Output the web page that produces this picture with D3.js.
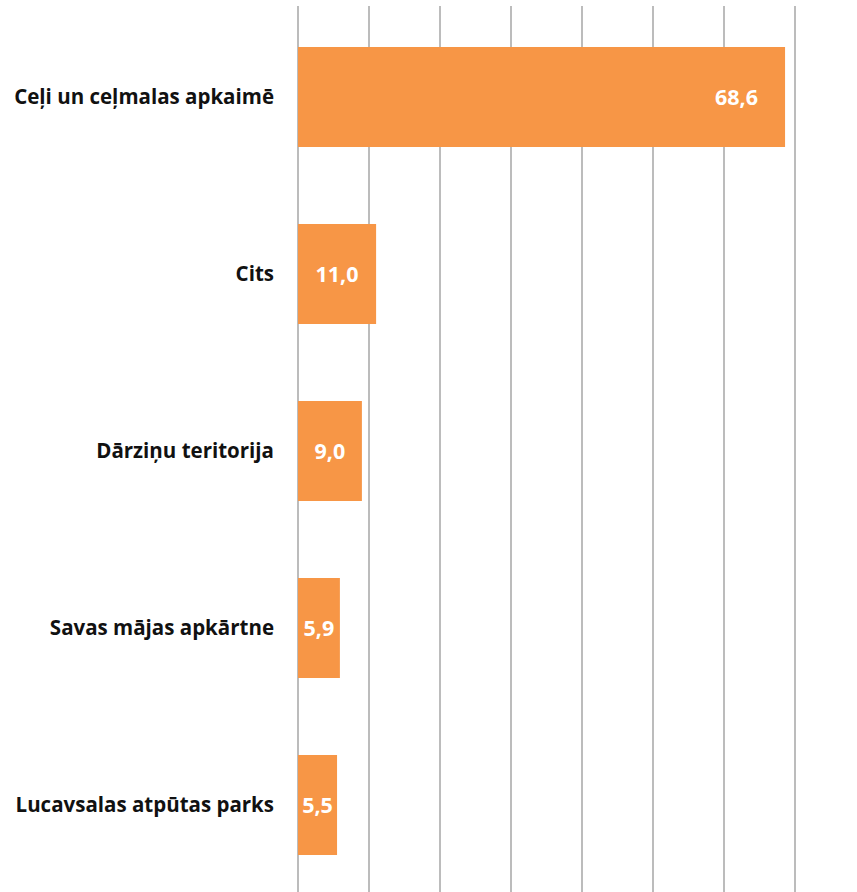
<!DOCTYPE html>
<html><head><meta charset="utf-8">
<script src="https://cdn.jsdelivr.net/npm/d3@7"></script>
<style>body{margin:0;background:#fff}svg{display:block}</style>
</head><body>
<svg id="c" width="857" height="892"></svg>
<script>
const categories = ["Ceļi un ceļmalas apkaimē","Cits","Dārziņu teritorija","Savas mājas apkārtne","Lucavsalas atpūtas parks"];
const values = [68.6, 11.0, 9.0, 5.9, 5.5];
const ticks = [0,10,20,30,40,50,60,70];

const svg = d3.select("#c");
const x = d3.scaleLinear().domain([0,70]).range([298,795]);
const y = d3.scaleBand().domain(categories).range([8.5,893.5]).paddingInner(0.435).paddingOuter(0.2175);

svg.append("g").selectAll("line").data(ticks).enter().append("line")
  .attr("x1",d=>x(d)).attr("x2",d=>x(d)).attr("y1",6).attr("y2",892)
  .attr("stroke","#a6a6a6").attr("stroke-width",1.5);

svg.append("g").selectAll("rect").data(values).enter().append("rect")
  .attr("x",x(0)).attr("y",(d,i)=>y(categories[i]))
  .attr("width",d=>x(d)-x(0)).attr("height",y.bandwidth())
  .attr("fill","#f79646");

svg.append("g").selectAll("text").data(categories).enter().append("text")
  .attr("x",274).attr("y",d=>y(d)+y.bandwidth()/2).attr("dy","0.36em")
  .attr("text-anchor","end").attr("font-family","'Open Sans', sans-serif")
  .attr("font-weight","bold").attr("font-size","20.5px").attr("fill","#111")
  .text(d=>d);

const fmt = v => v.toFixed(1).replace(".",",");
const vl = svg.append("g").selectAll("text").data(values).enter().append("text")
  .attr("y",(d,i)=>y(categories[i])+y.bandwidth()/2).attr("dy","0.36em")
  .attr("font-family","'Open Sans', sans-serif").attr("font-weight","bold")
  .attr("font-size","21.5px").attr("fill","#fff")
  .text(d=>fmt(d));
vl.each(function(d){
  const w = this.getComputedTextLength();
  const bw = x(d)-x(0);
  const off = Math.min(27, Math.max(1,(bw - w)/2));
  d3.select(this).attr("x", x(d) - off - w);
});
</script>
</body></html>
